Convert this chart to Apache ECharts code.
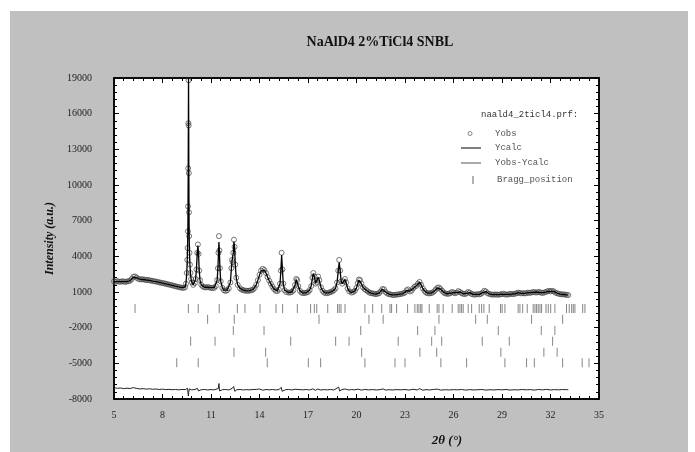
<!DOCTYPE html>
<html>
<head>
<meta charset="utf-8">
<script src="https://cdn.jsdelivr.net/npm/echarts@6/dist/echarts.min.js"></script>
<style>html,body{margin:0;padding:0;background:#fff}#c{width:695px;height:452px}</style>
</head>
<body>
<div id="c"></div>
<script>
// ---- data ----
const xTicks = [5, 8, 11, 14, 17, 20, 23, 26, 29, 32, 35];
const yTicks = [-8000, -5000, -2000, 1000, 4000, 7000, 10000, 13000, 16000, 19000];

const twoTheta = [
  5.0,5.1,5.2,5.3,5.4,5.5,5.6,5.7,5.8,5.9,
  6.0,6.1,6.2,6.3,6.4,6.5,6.6,6.7,6.8,6.9,
  7.0,7.1,7.2,7.3,7.4,7.5,7.6,7.7,7.8,7.9,
  8.0,8.1,8.2,8.3,8.4,8.5,8.6,8.7,8.8,8.9,
  9.0,9.1,9.2,9.3,
  9.40,9.45,9.50,9.53,9.55,9.57,9.58,9.59,9.60,9.61,
  9.62,9.63,9.64,9.65,9.67,9.70,9.73,9.77,9.82,9.9,
  10.0,10.05,10.1,10.15,10.19,10.23,10.27,10.32,10.4,10.5,
  10.6,10.7,10.8,10.9,11.0,11.1,11.2,11.3,
  11.38,11.43,11.46,11.49,11.52,11.55,11.6,11.7,11.8,11.9,
  12.0,12.1,12.2,12.26,12.3,12.34,12.38,12.42,12.46,12.5,
  12.56,12.65,12.8,12.9,
  13.0,13.1,13.2,13.3,13.4,13.5,13.6,13.7,13.8,13.9,
  14.0,14.1,14.2,14.3,14.4,14.5,14.6,14.7,14.8,14.9,
  15.0,15.1,15.2,
  15.27,15.32,15.37,15.42,15.47,15.55,15.65,15.8,15.9,16.0,
  16.1,16.2,16.27,16.33,16.4,16.5,16.6,16.7,16.8,16.9,
  17.0,17.1,17.2,17.27,17.33,17.4,17.47,17.55,17.63,17.7,
  17.8,17.9,18.0,18.1,18.2,18.3,18.4,18.5,18.6,18.7,
  18.8,18.87,18.93,18.99,19.05,19.12,19.2,19.28,19.36,19.45,
  19.55,19.7,19.8,19.9,20.0,20.08,20.15,20.22,20.3,20.4,
  20.5,20.6,20.7,20.8,20.9,
  21.0,21.1,21.2,21.3,21.4,21.5,21.6,21.7,21.8,21.9,
  22.0,22.1,22.2,22.3,22.4,22.5,22.6,22.7,22.8,22.9,
  23.0,23.1,23.2,23.3,23.4,23.5,23.6,23.7,23.8,23.9,
  24.0,24.1,24.2,24.3,24.4,24.5,24.6,24.7,24.8,24.9,
  25.0,25.1,25.2,25.3,25.4,25.5,25.6,25.7,25.8,25.9,
  26.0,26.1,26.2,26.3,26.4,26.5,26.6,26.7,26.8,26.9,
  27.0,27.1,27.2,27.3,27.4,27.5,27.6,27.7,27.8,27.9,
  28.0,28.1,28.2,28.3,28.4,28.5,28.6,28.7,28.8,28.9,
  29.0,29.1,29.2,29.3,29.4,29.5,29.6,29.7,29.8,29.9,
  30.0,30.1,30.2,30.3,30.4,30.5,30.6,30.7,30.8,30.9,
  31.0,31.1,31.2,31.3,31.4,31.5,31.6,31.7,31.8,31.9,
  32.0,32.1,32.2,32.3,32.4,32.5,32.6,32.7,32.8,32.9,
  33.0,33.1
];

const yObs = [
  1900,1850,1920,1870,1860,1900,1880,1840,1890,1910,
  1960,2100,2280,2310,2200,2110,2070,2060,2070,2030,
  2000,2020,1980,1950,1930,1900,1880,1840,1810,1780,
  1760,1720,1700,1650,1630,1590,1560,1520,1490,1450,
  1420,1390,1360,1340,
  1400,1700,2600,3700,4700,6100,8200,11400,15200,18800,
  15000,11000,7700,5700,4300,3300,2600,2100,1800,1600,
  1750,2100,2900,4300,5000,4200,2800,2000,1600,1450,
  1400,1380,1420,1380,1350,1330,1350,1500,
  2000,3000,4300,5700,4500,3000,1900,1350,1150,1080,
  1150,1300,1800,3000,3700,3500,4300,5400,4800,3300,
  2200,1600,1300,1200,
  1150,1120,1100,1100,1120,1150,1200,1350,1600,2000,
  2450,2800,2950,2850,2600,2250,1950,1700,1450,1250,
  1100,1080,1200,
  1700,2800,4300,2900,1700,1150,1000,950,960,1000,
  1150,1600,2100,2000,1500,1100,950,900,920,950,
  1000,1150,1500,2200,2600,2300,1700,1800,2300,2000,
  1400,1100,950,900,900,950,1000,1050,1150,1300,
  1800,2800,3700,2800,1900,1700,1900,2100,1800,1300,
  1050,950,1000,1100,1350,1750,2050,2000,1700,1400,
  1250,1150,1050,950,900,
  880,850,820,850,900,1050,1250,1230,1000,880,
  820,800,760,740,760,780,800,820,850,900,
  950,1150,1220,1050,1100,1300,1450,1520,1700,1850,
  1600,1300,1100,950,900,880,900,950,1050,1200,
  1350,1380,1250,1100,950,880,850,850,900,1000,
  950,900,950,1080,1000,900,850,820,880,1000,
  950,850,800,780,800,820,800,850,950,1100,
  1050,900,850,800,780,780,790,780,770,800,
  820,850,800,780,800,850,830,820,850,900,
  950,920,880,900,880,900,950,920,950,980,
  1000,950,980,1000,950,920,950,1000,1050,1100,
  1050,1100,1050,950,900,850,820,800,800,780,
  760,740
];

const yCalc = [
  1880,1870,1880,1870,1870,1880,1870,1860,1880,1900,
  1950,2080,2250,2280,2190,2100,2070,2050,2050,2030,
  2010,2000,1980,1950,1920,1900,1870,1840,1810,1780,
  1750,1720,1690,1660,1630,1590,1560,1520,1490,1460,
  1430,1390,1360,1340,
  1420,1720,2550,3650,4750,6200,8300,11500,15300,19300,
  15100,11100,7800,5750,4300,3250,2550,2080,1780,1600,
  1740,2080,2950,4250,4900,4150,2850,1980,1600,1460,
  1400,1390,1400,1380,1360,1340,1360,1500,
  1980,3050,4200,5200,4400,3050,1920,1360,1160,1100,
  1150,1300,1820,2950,3600,3450,4300,5250,4750,3350,
  2200,1600,1300,1200,
  1150,1120,1100,1100,1120,1150,1210,1340,1600,2000,
  2420,2780,2900,2830,2600,2260,1950,1700,1450,1250,
  1110,1080,1190,
  1720,2750,4100,2850,1720,1150,1000,950,960,1000,
  1150,1580,2050,1980,1500,1100,950,900,920,950,
  1000,1150,1520,2150,2550,2280,1720,1800,2250,1980,
  1400,1100,950,900,900,950,1000,1050,1150,1300,
  1820,2750,3500,2750,1900,1700,1880,2050,1780,1300,
  1050,950,1000,1100,1350,1720,2000,1980,1700,1400,
  1250,1150,1050,950,900,
  870,850,830,850,900,1040,1230,1220,1000,880,
  820,790,760,750,760,780,800,820,850,900,
  960,1130,1200,1070,1100,1290,1440,1520,1680,1820,
  1600,1300,1100,960,900,880,900,950,1050,1190,
  1340,1370,1250,1100,960,880,850,850,900,990,
  950,910,950,1060,1000,900,850,830,880,990,
  950,860,800,780,800,810,800,850,950,1080,
  1040,900,850,800,780,780,790,780,780,800,
  820,840,800,790,800,840,830,820,850,900,
  940,920,890,890,880,900,940,920,950,980,
  990,960,980,990,950,930,950,990,1040,1080,
  1050,1090,1050,950,900,860,820,800,790,780,
  760,740
];

// Yobs - Ycalc, drawn with its offset as in the reference
const diffPoints = [
  [5.0,-7040],[5.2,-7100],[5.4,-7070],[5.6,-7130],[5.8,-7090],[6.0,-7120],[6.2,-7040],[6.4,-7110],[6.6,-7150],[6.8,-7130],
  [7.0,-7170],[7.2,-7140],[7.4,-7180],[7.6,-7160],[7.8,-7200],[8.0,-7170],[8.2,-7210],[8.4,-7190],[8.6,-7220],[8.8,-7200],
  [9.0,-7230],[9.2,-7200],[9.4,-7210],[9.55,-7100],[9.58,-6950],[9.6,-7750],[9.62,-7450],[9.66,-7150],[9.8,-7230],[10.0,-7200],
  [10.17,-7100],[10.22,-7320],[10.4,-7220],[10.6,-7200],[10.8,-7240],[11.0,-7210],[11.2,-7230],[11.45,-7120],[11.49,-6700],[11.53,-7320],
  [11.7,-7220],[11.9,-7200],[12.1,-7240],[12.3,-7120],[12.4,-6950],[12.47,-7350],[12.6,-7220],[12.8,-7200],[13.0,-7240],[13.2,-7210],
  [13.4,-7230],[13.6,-7200],[13.8,-7190],[14.0,-7160],[14.2,-7260],[14.4,-7200],[14.6,-7230],[14.8,-7200],[15.0,-7240],[15.2,-7210],
  [15.35,-7020],[15.4,-7350],[15.6,-7220],[15.8,-7200],[16.0,-7240],[16.2,-7180],[16.3,-7270],[16.5,-7210],[16.7,-7230],[16.9,-7200],
  [17.1,-7240],[17.3,-7150],[17.45,-7270],[17.6,-7170],[17.8,-7240],[18.0,-7210],[18.2,-7230],[18.4,-7200],[18.6,-7240],[18.9,-7000],
  [18.96,-7330],[19.1,-7200],[19.3,-7160],[19.5,-7240],[19.7,-7210],[19.9,-7230],[20.1,-7170],[20.3,-7250],[20.5,-7200],[20.75,-7230],
  [21.0,-7210],[21.25,-7240],[21.5,-7200],[21.65,-7150],[21.8,-7250],[22.0,-7220],[22.25,-7240],[22.5,-7210],[22.75,-7230],[23.0,-7200],
  [23.25,-7250],[23.5,-7180],[23.75,-7240],[23.9,-7130],[24.1,-7260],[24.3,-7210],[24.5,-7240],[24.75,-7200],[25.0,-7170],[25.2,-7250],
  [25.5,-7220],[25.75,-7240],[26.0,-7210],[26.25,-7230],[26.5,-7200],[26.75,-7250],[27.0,-7210],[27.25,-7240],[27.5,-7220],[27.75,-7200],
  [28.0,-7250],[28.25,-7220],[28.5,-7240],[28.75,-7210],[29.0,-7230],[29.25,-7200],[29.5,-7250],[29.75,-7220],[30.0,-7240],[30.25,-7200],
  [30.5,-7230],[30.75,-7210],[31.0,-7250],[31.25,-7200],[31.5,-7230],[31.75,-7190],[32.0,-7240],[32.25,-7210],[32.5,-7230],[32.75,-7200],
  [33.0,-7220],[33.1,-7210]
];

// Bragg reflection positions (2theta) for each phase row
const braggPhase1 = [6.30,9.60,10.21,11.51,12.63,13.10,14.03,15.02,15.43,16.34,17.16,17.39,17.54,18.22,18.83,18.93,19.04,19.29,
  20.52,21.00,21.56,22.07,22.17,22.48,23.16,23.61,23.76,23.86,23.97,24.05,24.50,24.99,25.10,25.36,25.92,26.29,26.40,26.50,26.60,
  26.91,27.12,27.59,27.74,27.88,28.21,28.91,29.01,29.18,30.00,30.11,30.28,30.56,30.93,31.04,31.14,31.24,31.35,31.45,31.72,31.86,
  32.01,32.27,32.99,33.16,33.31,33.41,33.51,33.99,34.13];
const braggPhase2 = [10.79,12.44,17.68,20.77,21.65,25.10,27.37,28.09,30.83,32.75];
const braggPhase3 = [12.38,14.28,20.26,23.78,24.85,28.77,31.43,32.27];
const braggPhase4 = [9.74,11.25,15.93,18.71,19.54,22.58,24.65,25.27,27.78,29.45,32.13];
const braggPhase5 = [12.42,14.38,20.32,23.92,24.96,28.93,31.59,32.41];
const braggPhase6 = [8.88,10.21,14.48,17.02,17.78,20.52,22.38,23.00,25.22,26.81,29.18,30.52,31.00,32.75,33.96,34.38];
const braggRowLevels = [-380, -1290, -2240, -3140, -4060, -4950];

// ---- build series data ----
const obsData = twoTheta.map((x, i) => [x, yObs[i]]);
const calcData = twoTheta.map((x, i) => [x, yCalc[i]]);
const braggRows = [braggPhase1, braggPhase2, braggPhase3, braggPhase4, braggPhase5, braggPhase6];
const braggData = [];
braggRows.forEach((row, r) => row.forEach(x => braggData.push([x, braggRowLevels[r]])));

const serif = 'Liberation Serif';
const mono = 'Liberation Mono';

function xAx(pos) {
  return {
    type: 'value', position: pos, min: xTicks[0], max: xTicks[xTicks.length - 1], interval: 3,
    axisLine: { show: true, onZero: false, lineStyle: { color: '#000', width: 1.5 } },
    axisTick: { show: true, inside: true, length: 5, lineStyle: { color: '#000' } },
    minorTick: { show: true, splitNumber: 5, length: 3, lineStyle: { color: '#000' } },
    splitLine: { show: false },
    axisLabel: { show: pos === 'bottom', fontFamily: serif, fontSize: 10, color: '#222', margin: 11, formatter: v => String(v) },
  };
}
function yAx(pos) {
  return {
    type: 'value', position: pos, min: yTicks[0], max: yTicks[yTicks.length - 1], interval: 3000,
    axisLine: { show: true, onZero: false, lineStyle: { color: '#000', width: 1.5 } },
    axisTick: { show: true, inside: true, length: 5, lineStyle: { color: '#000' } },
    minorTick: { show: true, splitNumber: 5, length: 3, lineStyle: { color: '#000' } },
    splitLine: { show: false },
    axisLabel: { show: pos === 'left', fontFamily: serif, fontSize: 10, color: '#222', margin: 22, formatter: v => String(v) },
  };
}

const xBottom = Object.assign(xAx('bottom'), {
  name: '2θ (°)', nameLocation: 'middle', nameGap: 35,
  nameTextStyle: { fontFamily: serif, fontSize: 13, fontWeight: 'bold', fontStyle: 'italic', color: '#111', padding: [0, 0, 0, 181] }
});
const yLeft = Object.assign(yAx('left'), {
  name: 'Intensity (a.u.)', nameLocation: 'middle', nameGap: 55,
  nameTextStyle: { fontFamily: serif, fontSize: 12, fontWeight: 'bold', fontStyle: 'italic', color: '#111' }
});

const legendText = { fontFamily: mono, fontSize: 9, fill: '#555' };

const chart = echarts.init(document.getElementById('c'), null, { renderer: 'canvas' });
chart.setOption({
  animation: false,
  backgroundColor: '#c0c0c0',
  title: {
    text: 'NaAlD4 2%TiCl4 SNBL', left: 380, top: 35, textAlign: 'center', padding: 0,
    textStyle: { fontFamily: serif, fontSize: 14, fontWeight: 'bold', color: '#111' }
  },
  grid: { left: 114, right: 96, top: 78, bottom: 52, show: true, backgroundColor: '#fff', borderColor: '#000', borderWidth: 1.5 },
  xAxis: [xBottom, xAx('top')],
  yAxis: [yLeft, yAx('right')],
  graphic: [
    { type: 'rect', shape: { x: 0, y: 0, width: 695, height: 11 }, style: { fill: '#fff' }, silent: true },
    { type: 'rect', shape: { x: 0, y: 0, width: 10, height: 452 }, style: { fill: '#fff' }, silent: true },
    { type: 'rect', shape: { x: 688, y: 0, width: 7, height: 452 }, style: { fill: '#fff' }, silent: true },
    { type: 'text', x: 481, y: 115, style: Object.assign({ text: 'naald4_2ticl4.prf:', verticalAlign: 'middle' }, legendText, { fill: '#333' }) },
    { type: 'circle', shape: { cx: 470, cy: 133.5, r: 2 }, style: { fill: 'none', stroke: '#666', lineWidth: 0.8 } },
    { type: 'text', x: 495, y: 133.5, style: Object.assign({ text: 'Yobs', verticalAlign: 'middle' }, legendText) },
    { type: 'line', shape: { x1: 461, y1: 148, x2: 481, y2: 148 }, style: { stroke: '#000', lineWidth: 1 } },
    { type: 'text', x: 495, y: 148, style: Object.assign({ text: 'Ycalc', verticalAlign: 'middle' }, legendText) },
    { type: 'line', shape: { x1: 461, y1: 163, x2: 481, y2: 163 }, style: { stroke: '#555', lineWidth: 1 } },
    { type: 'text', x: 495, y: 163, style: Object.assign({ text: 'Yobs-Ycalc', verticalAlign: 'middle' }, legendText) },
    { type: 'line', shape: { x1: 473, y1: 176, x2: 473, y2: 184 }, style: { stroke: '#666', lineWidth: 1 } },
    { type: 'text', x: 497, y: 180, style: Object.assign({ text: 'Bragg_position', verticalAlign: 'middle' }, legendText) }
  ],
  series: [
    {
      name: 'Yobs', type: 'scatter', data: obsData, symbol: 'circle', symbolSize: 5,
      itemStyle: { color: 'rgba(255,255,255,0)', borderColor: '#444', borderWidth: 0.9 }, z: 2
    },
    {
      name: 'Ycalc', type: 'line', data: calcData, showSymbol: false, clip: true,
      lineStyle: { color: '#000', width: 1.3 }, z: 3
    },
    {
      name: 'Yobs-Ycalc', type: 'line', data: diffPoints, showSymbol: false,
      lineStyle: { color: '#222', width: 1 }, z: 3
    },
    {
      name: 'Bragg_position', type: 'scatter', data: braggData, symbol: 'rect', symbolSize: [1, 9],
      itemStyle: { color: '#666' }, z: 2
    }
  ]
});
</script>
</body>
</html>
